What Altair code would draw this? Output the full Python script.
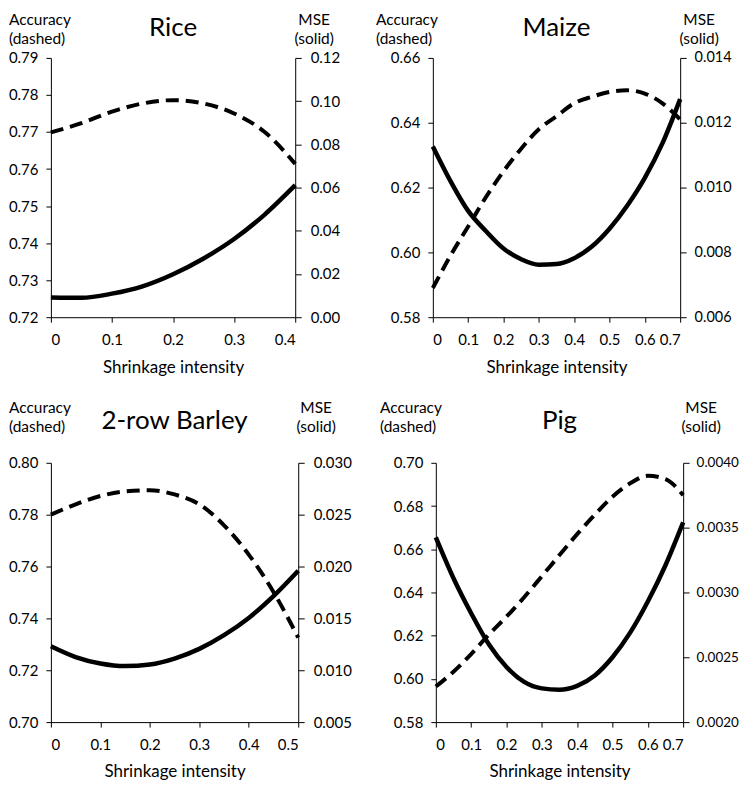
import altair as alt
import pandas as pd

FONT = "Lato"

# ---------------- data ----------------
rice_x = [0, 0.05, 0.1, 0.15, 0.2, 0.25, 0.3, 0.35, 0.4]
rice_acc = [0.7699, 0.7724, 0.7755, 0.7777, 0.7786, 0.7777, 0.7750, 0.7700, 0.7614]
rice_mse = [0.0091, 0.0090, 0.0109, 0.0143, 0.0199, 0.0272, 0.0362, 0.0475, 0.0611]

maize_x = [0, 0.05, 0.1, 0.15, 0.2, 0.25, 0.3, 0.35, 0.4, 0.45, 0.5, 0.55, 0.6, 0.65, 0.7]
maize_acc = [0.589, 0.599, 0.608, 0.617, 0.625, 0.632, 0.638, 0.642, 0.646, 0.648,
             0.6495, 0.650, 0.649, 0.646, 0.641]
maize_mse = [0.01127, 0.01020, 0.00928, 0.00866, 0.00812, 0.00779, 0.00762, 0.00764,
             0.00782, 0.00818, 0.00873, 0.00944, 0.01030, 0.01137, 0.01273]

barley_x = [0, 0.05, 0.1, 0.15, 0.2, 0.25, 0.3, 0.35, 0.4, 0.45, 0.5]
barley_acc = [0.780, 0.784, 0.7872, 0.789, 0.7894, 0.7878, 0.784, 0.7759, 0.7646, 0.7502, 0.7326]
barley_mse = [0.01231, 0.01127, 0.01065, 0.01040, 0.01055, 0.01112, 0.01206, 0.01338,
              0.01504, 0.01714, 0.01959]

pig_x = [0, 0.05, 0.1, 0.15, 0.2, 0.25, 0.3, 0.35, 0.4, 0.45, 0.5, 0.55, 0.6, 0.65, 0.7]
pig_acc = [0.5965, 0.6033, 0.6115, 0.6205, 0.6288, 0.6378, 0.6475, 0.6573, 0.667, 0.676,
           0.6843, 0.6905, 0.694, 0.6925, 0.685]
pig_mse = [0.003425, 0.00311, 0.00284, 0.0026, 0.002425, 0.00231, 0.00226, 0.00225,
           0.00228, 0.00236, 0.0025, 0.00269, 0.00293, 0.00321, 0.00354]

# tick values
rice_xticks = [0, 0.1, 0.2, 0.3, 0.4]
maize_xticks = [0, 0.1, 0.2, 0.3, 0.4, 0.5, 0.6, 0.7]
barley_xticks = [0, 0.1, 0.2, 0.3, 0.4, 0.5]
pig_xticks = [0, 0.1, 0.2, 0.3, 0.4, 0.5, 0.6, 0.7]

rice_acc_ticks = [0.72, 0.73, 0.74, 0.75, 0.76, 0.77, 0.78, 0.79]
rice_mse_ticks = [0.0, 0.02, 0.04, 0.06, 0.08, 0.10, 0.12]
maize_acc_ticks = [0.58, 0.60, 0.62, 0.64, 0.66]
maize_mse_ticks = [0.006, 0.008, 0.010, 0.012, 0.014]
barley_acc_ticks = [0.70, 0.72, 0.74, 0.76, 0.78, 0.80]
barley_mse_ticks = [0.005, 0.010, 0.015, 0.020, 0.025, 0.030]
pig_acc_ticks = [0.58, 0.60, 0.62, 0.64, 0.66, 0.68, 0.70]
pig_mse_ticks = [0.0020, 0.0025, 0.0030, 0.0035, 0.0040]

LEFT_LABEL = ["Accuracy", "(dashed)"]
RIGHT_LABEL = ["MSE", "(solid)"]
LINE_GAP = 18.7
TXT_SIZE = 15.5


def txt(s, x, y, size, align):
    return alt.Chart(pd.DataFrame({"t": [s]})).mark_text(
        font=FONT, fontSize=size, color="black", baseline="top", align=align
    ).encode(text="t:N", x=alt.value(x), y=alt.value(y))


def panel(name, xs, acc, mse, xticks, acc_ticks, acc_fmt, mse_ticks, mse_fmt,
          W, H, acc_tx, t_dy, mse_tx, name_dy, rfont, rpad):
    df = pd.DataFrame({"x": xs, "acc": acc, "mse": mse})
    xdom = [xticks[0], xticks[-1]]
    xenc = alt.X("x:Q",
                 scale=alt.Scale(domain=xdom, nice=False, zero=False),
                 axis=alt.Axis(values=xticks, format=".1~f", title="Shrinkage intensity",
                               tickSize=5, labelPadding=10, titlePadding=12))
    base = alt.Chart(df)
    acc_line = base.mark_line(color="black", strokeWidth=4, strokeDash=[13, 7],
                              strokeCap="butt", interpolate="monotone").encode(
        x=xenc,
        y=alt.Y("acc:Q",
                scale=alt.Scale(domain=[acc_ticks[0], acc_ticks[-1]], nice=False, zero=False),
                axis=alt.Axis(orient="left", values=acc_ticks, format=acc_fmt, title=None,
                              tickSize=5, labelPadding=8)),
    )
    mse_line = base.mark_line(color="black", strokeWidth=4.5,
                              interpolate="monotone").encode(
        x=xenc,
        y=alt.Y("mse:Q",
                scale=alt.Scale(domain=[mse_ticks[0], mse_ticks[-1]], nice=False, zero=False),
                axis=alt.Axis(orient="right", values=mse_ticks, format=mse_fmt, title=None,
                              tickSize=6, labelPadding=rpad, labelFontSize=rfont)),
    )
    layers = [
        acc_line, mse_line,
        txt(name, W / 2, name_dy, 26, "center"),
        txt(LEFT_LABEL[0], acc_tx, t_dy, TXT_SIZE, "left"),
        txt(LEFT_LABEL[1], acc_tx, t_dy + LINE_GAP, TXT_SIZE, "left"),
        txt(RIGHT_LABEL[0], W + mse_tx, t_dy, TXT_SIZE, "center"),
        txt(RIGHT_LABEL[1], W + mse_tx, t_dy + LINE_GAP, TXT_SIZE, "center"),
    ]
    return alt.layer(*layers).resolve_scale(y="independent").properties(width=W, height=H)


p_rice = panel("Rice", rice_x, rice_acc, rice_mse, rice_xticks,
               rice_acc_ticks, ".2f", rice_mse_ticks, ".2f",
               245, 260, -42, -45, 19, -43, 15, 9)
p_maize = panel("Maize", maize_x, maize_acc, maize_mse, maize_xticks,
                maize_acc_ticks, ".2f", maize_mse_ticks, ".3f",
                248, 260, -57, -45, 19, -43, 14.5, 8)
p_barley = panel("2-row Barley", barley_x, barley_acc, barley_mse, barley_xticks,
                 barley_acc_ticks, ".2f", barley_mse_ticks, ".3f",
                 248, 260, -42, -62, 18, -55, 15, 9)
p_pig = panel("Pig", pig_x, pig_acc, pig_mse, pig_xticks,
              pig_acc_ticks, ".2f", pig_mse_ticks, ".4f",
              248, 260, -56, -62, 18, -55, 13.5, 7)

chart = alt.vconcat(
    alt.hconcat(p_rice, p_maize, spacing=36),
    alt.hconcat(p_barley, p_pig, spacing=28),
    spacing=26,
).properties(padding={"top": 4, "left": 0, "right": 0, "bottom": 0}).configure_axis(
    grid=False,
    domainColor="black", tickColor="black", labelColor="black", titleColor="black",
    labelFont=FONT, titleFont=FONT, labelFontSize=15, titleFontSize=17,
    titleFontWeight="normal",
).configure_view(stroke=None)

chart.save("out.html", embed_options={"renderer": "svg", "actions": False})
